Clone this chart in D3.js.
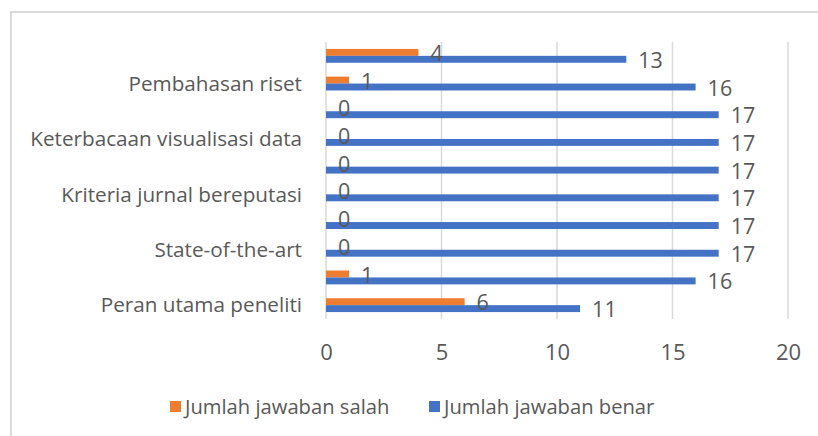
<!DOCTYPE html>
<html>
<head>
<meta charset="utf-8">
<script src="https://cdn.jsdelivr.net/npm/d3@7"></script>
<style>
  html, body { margin: 0; padding: 0; background: #fff; }
  svg { display: block; }
  text { font-family: "Open Sans", sans-serif; fill: #595959; }
</style>
</head>
<body>
<svg id="chart" width="818" height="436"></svg>
<script>
// Categories from bottom to top (only every other label is shown in the original)
const categories = [
  "Peran utama peneliti", "",
  "State-of-the-art", "",
  "Kriteria jurnal bereputasi", "",
  "Keterbacaan visualisasi data", "",
  "Pembahasan riset", ""
];
const seriesNames = ["Jumlah jawaban salah", "Jumlah jawaban benar"];
const salah = [6, 1, 0, 0, 0, 0, 0, 0, 1, 4];
const benar = [11, 16, 17, 17, 17, 17, 17, 17, 16, 13];
const xTicks = [0, 5, 10, 15, 20];
const colors = ["#ED7D31", "#4472C4"];

const svg = d3.select("#chart");
const W = 818, H = 436;
const plot = { left: 326, right: 788, top: 42, bottom: 319 };

// chart area border (only top and left visible)
svg.append("rect")
  .attr("x", 11).attr("y", 12)
  .attr("width", W + 20).attr("height", H + 20)
  .attr("fill", "none").attr("stroke", "#D9D9D9").attr("stroke-width", 2);

const x = d3.scaleLinear().domain([0, 20]).range([plot.left, plot.right]);
const idx = d3.range(categories.length);
const y = d3.scaleBand().domain(idx).range([plot.bottom, plot.top])
  .paddingInner(0.5).paddingOuter(0.25);
const sub = d3.scaleBand().domain([0, 1]).range([0, y.bandwidth()]);

// gridlines
svg.append("g").selectAll("line").data(xTicks).join("line")
  .attr("x1", d => x(d)).attr("x2", d => x(d))
  .attr("y1", plot.top).attr("y2", plot.bottom)
  .attr("stroke", "#D9D9D9").attr("stroke-width", 1.5);

// x axis tick labels
const xAxis = d3.axisBottom(x).tickValues(xTicks).tickSize(0).tickPadding(0);
const gx = svg.append("g").attr("transform", `translate(0,${plot.bottom})`).call(xAxis);
gx.select(".domain").remove();
gx.selectAll("text")
  .attr("y", 33).attr("dy", "0.35em")
  .style("font-size", "22px").style("font-family", "'Open Sans', sans-serif").attr("fill", "#595959");

// y axis labels
const yAxis = d3.axisLeft(y).tickFormat(i => categories[i]).tickSize(0).tickPadding(0);
const gy = svg.append("g").attr("transform", `translate(${plot.left},0)`).call(yAxis);
gy.select(".domain").remove();
gy.selectAll("text")
  .attr("x", -24).attr("dy", "0.35em")
  .style("font-size", "20.7px").style("font-family", "'Open Sans', sans-serif").attr("fill", "#595959");

const seriesData = [salah, benar];
const barsG = svg.append("g");
const labelsG = svg.append("g");
seriesData.forEach((vals, s) => {
  barsG.append("g").selectAll("rect").data(vals).join("rect")
    .attr("x", x(0))
    .attr("y", (d, i) => y(i) + sub(s))
    .attr("width", d => x(d) - x(0))
    .attr("height", sub.bandwidth())
    .attr("fill", colors[s]);
  labelsG.append("g").selectAll("text").data(vals).join("text")
    .attr("x", d => x(d) + 12)
    .attr("y", (d, i) => y(i) + sub(s) + sub.bandwidth() / 2 + 1)
    .attr("dy", "0.35em")
    .style("font-size", "21.5px")
    .text(d => d);
});

// legend
const legendItems = [
  { name: seriesNames[0], color: colors[0], x: 170 },
  { name: seriesNames[1], color: colors[1], x: 429 }
];
const lg = svg.append("g");
legendItems.forEach(it => {
  lg.append("rect").attr("x", it.x).attr("y", 401).attr("width", 11).attr("height", 11).attr("fill", it.color);
  lg.append("text").attr("x", it.x + 15).attr("y", 407).attr("dy", "0.35em")
    .style("font-size", "20.2px").text(it.name);
});
</script>
</body>
</html>
